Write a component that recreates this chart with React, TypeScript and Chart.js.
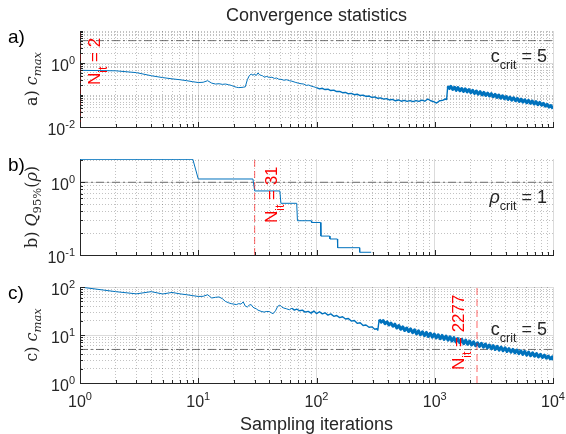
import React, { useEffect, useRef } from "react";
import { Chart, registerables } from "chart.js";

Chart.register(...registerables);

// ---------------- data ----------------
const xMin = 1;
const xMax = 10000;
const xTickExps = [0, 1, 2, 3, 4];

// panel a : c_max (first criterion)
const aIter = [
  1, 2, 3, 4, 5, 6, 7, 8, 9, 10, 11, 12, 13, 14, 15, 16, 17, 18, 19, 20, 21, 22, 23, 24, 25, 26, 27, 28, 29, 30,
  31, 32, 33, 34, 35, 36, 38, 40, 42, 44, 46, 48, 50, 53, 56, 59, 62, 66, 70, 74, 78, 82, 86, 90, 95,
  100, 106, 112, 118, 125, 132, 140, 148, 157, 166, 176, 186, 197, 209, 221, 234, 248, 262, 278, 294,
  311, 330, 349, 370, 391, 414, 439, 465, 492, 521, 552, 584, 619, 655, 694, 735, 778, 824, 873, 924,
  979, 1037, 1098, 1163, 1232, 1260,
  1288, 1330, 1370, 1420, 1470, 1520, 1570, 1630, 1690, 1750, 1810, 1880, 1950, 2020, 2090, 2170, 2250,
  2330, 2420, 2510, 2600, 2700, 2800, 2900, 3010, 3120, 3240, 3360, 3480, 3610, 3740, 3880, 4020, 4170,
  4320, 4480, 4650, 4820, 5000, 5180, 5370, 5570, 5780, 5990, 6210, 6440, 6680, 6930, 7180, 7450, 7720,
  8010, 8300, 8610, 8930, 9260, 9600, 10000,
];
const aVal = [
  0.59, 0.57, 0.5, 0.4, 0.35, 0.32, 0.3, 0.28, 0.26, 0.245, 0.25, 0.28, 0.235, 0.22, 0.225, 0.215, 0.22, 0.21, 0.2, 0.185,
  0.175, 0.17, 0.172, 0.175, 0.18, 0.3, 0.4, 0.45, 0.42, 0.44, 0.41, 0.49, 0.43, 0.41, 0.4, 0.36, 0.38, 0.35, 0.36, 0.33,
  0.34, 0.31, 0.31, 0.29, 0.3, 0.28, 0.27, 0.25, 0.235, 0.225, 0.22, 0.2, 0.205, 0.19, 0.18,
  0.17, 0.155, 0.162, 0.148, 0.152, 0.138, 0.142, 0.128, 0.13, 0.118, 0.12, 0.109, 0.112, 0.102, 0.106, 0.096, 0.099, 0.09, 0.093, 0.084,
  0.087, 0.079, 0.081, 0.074, 0.077, 0.07, 0.073, 0.066, 0.07, 0.064, 0.068, 0.063, 0.067, 0.062, 0.067, 0.063, 0.069, 0.064, 0.075, 0.066,
  0.062, 0.056, 0.066, 0.068, 0.075, 0.072,
  0.19, 0.16, 0.185, 0.15, 0.175, 0.14, 0.17, 0.135, 0.16, 0.13, 0.155, 0.125, 0.148, 0.118, 0.14, 0.112, 0.133,
  0.106, 0.127, 0.101, 0.121, 0.097, 0.115, 0.093, 0.11, 0.088, 0.105, 0.084, 0.1, 0.08, 0.095, 0.076, 0.09, 0.073,
  0.086, 0.069, 0.082, 0.066, 0.078, 0.063, 0.074, 0.06, 0.071, 0.057, 0.068, 0.055, 0.065, 0.052, 0.062, 0.05, 0.059,
  0.048, 0.055, 0.045, 0.051, 0.042, 0.047, 0.037,
];

// panel b : Q95%(rho)
const bIter = [1, 9, 10, 29, 30, 49, 50, 68, 69, 90, 91, 108, 109, 129, 130, 150, 151, 231, 232, 290];
const bVal = [2.07, 2.07, 1.11, 1.11, 0.76, 0.76, 0.514, 0.514, 0.296, 0.296, 0.28, 0.28, 0.182, 0.182, 0.166, 0.166, 0.126, 0.126, 0.109, 0.109];

// panel c : c_max (second criterion)
const cIter = [
  1, 2, 3, 4, 5, 6, 7, 8, 9, 10, 11, 12, 13, 14, 15, 16, 17, 18, 19, 20, 21, 22, 23, 24, 25, 26, 27, 28, 29, 30,
  31, 32, 34, 36, 38, 40, 42, 43, 45, 47, 49, 51, 53, 56, 59,
  62, 65, 68, 72, 76, 80, 85, 90, 95, 100, 106, 112, 118, 125, 132, 140, 148, 157, 166, 176, 186, 197, 209, 221,
  234, 248, 262, 278, 294, 311, 323, 330,
  339, 352, 366, 380, 395, 410, 426, 443, 460, 478, 497, 516, 536, 557, 579, 602, 625, 650, 675, 701,
  729, 757, 787, 818, 850, 883, 917, 953, 990, 1029, 1069, 1111, 1154, 1199, 1246, 1295, 1345, 1398, 1452, 1509,
  1568, 1629, 1693, 1759, 1827, 1899, 1973, 2050, 2130, 2213, 2300, 2390, 2483, 2580, 2680, 2785, 2894, 3007, 3124, 3246,
  3373, 3504, 3641, 3783, 3931, 4084, 4244, 4409, 4581, 4760, 4946, 5139, 5340, 5548, 5765, 5990, 6224, 6467, 6719, 6982,
  7254, 7537, 7832, 8137, 8455, 8785, 9128, 9484, 9855, 10000,
];
const cVal = [
  100, 80, 72, 80, 71.5, 77, 72, 69, 66, 63.5, 64, 69, 59, 61, 62, 57, 50, 47, 45, 44, 43, 45, 44, 49, 40, 38.3, 42, 43, 38, 36.4,
  35, 33, 31.1, 30, 31, 30.6, 28.5, 27.8, 32, 39.6, 42, 38, 36.4, 35, 33.6,
  36, 33, 34.5, 32, 33, 30, 31, 28.5, 31.5, 28, 30.5, 27.5, 29, 26, 27.5, 24.5, 25.5, 23, 24, 21.5, 22, 19.5, 20, 17.5,
  18, 15.8, 16.2, 14.5, 14.8, 13.2, 13.5, 12.6,
  21, 18.5, 20, 17.2, 18.8, 16.2, 17.8, 15.2, 16.8, 14.0, 15.8, 13.2, 14.8, 12.4, 14.0, 11.8, 13.4, 11.2, 12.8, 10.6,
  12.2, 10.1, 11.7, 9.7, 11.3, 9.3, 10.9, 9.0, 10.5, 8.7, 10.1, 8.4, 9.8, 8.1, 9.5, 7.8, 9.2, 7.5, 8.8, 7.2,
  8.4, 6.9, 8.1, 6.6, 7.8, 6.4, 7.5, 6.2, 7.2, 6.0, 6.9, 5.8, 6.7, 5.6, 6.5, 5.4, 6.2, 5.2, 6.0, 5.0,
  5.8, 4.85, 5.6, 4.7, 5.4, 4.55, 5.2, 4.4, 5.0, 4.25, 4.85, 4.1, 4.7, 3.95, 4.55, 3.8, 4.4, 3.7, 4.25, 3.6,
  4.1, 3.5, 3.95, 3.4, 3.8, 3.3, 3.65, 3.2, 3.5, 3.0,
];

const critValues = [5, 1, 5];
const nItValues = [2, 31, 2277];
const nItLineAt = [1, 30, 2276];
const yMins = [0.01, 0.1, 1];
const yMaxs = [10, 2.09, 100];
const yTickExps = [[-2, 0], [-1, 0], [0, 1, 2]];
const panelLetters = ["a)", "b)", "c)"];
const titleText = "Convergence statistics";
const xLabelText = "Sampling iterations";
// iteration from which the trace becomes a dense noisy band
const denseFrom = [1288, Infinity, 339];
const noisyFrom = [100, Infinity, 60];

// ---------------- styling helpers ----------------
const SANS = '"Liberation Sans", Arial, Helvetica, sans-serif';
const SERIF = '"DejaVu Serif", "Liberation Serif", serif';
const TXT = "#262626";

type Seg = { t: string; size: number; dy?: number; italic?: boolean; family?: string; color?: string };

function fontOf(s: Seg) {
  return `${s.italic ? "italic " : ""}${s.size}px ${s.family || SANS}`;
}

function drawSegs(ctx: CanvasRenderingContext2D, segs: Seg[], x: number, y: number, align: string, rotate: boolean, color: string) {
  let total = 0;
  const widths = segs.map((s) => {
    ctx.font = fontOf(s);
    const w = ctx.measureText(s.t).width;
    total += w;
    return w;
  });
  ctx.save();
  ctx.translate(x, y);
  if (rotate) ctx.rotate(-Math.PI / 2);
  let cx = align === "left" ? 0 : align === "center" ? -total / 2 : -total;
  ctx.textAlign = "left";
  ctx.textBaseline = "alphabetic";
  segs.forEach((s, i) => {
    ctx.font = fontOf(s);
    ctx.fillStyle = s.color || color;
    ctx.fillText(s.t, cx, s.dy || 0);
    cx += widths[i];
  });
  ctx.restore();
}

function pow10Segs(exp: number): Seg[] {
  return [
    { t: "10", size: 16 },
    { t: exp < 0 ? "-" + Math.abs(exp) : String(exp), size: 11, dy: -7 },
  ];
}

function isPow10(v: number) {
  const l = Math.log10(v);
  return Math.abs(l - Math.round(l)) < 1e-9;
}
function isMajor(v: number, exps: number[]) {
  if (!isPow10(v)) return false;
  return exps.includes(Math.round(Math.log10(v)));
}

function logTicks(min: number, max: number) {
  const out: any[] = [];
  for (let d = Math.floor(Math.log10(min)); d <= Math.ceil(Math.log10(max)); d++) {
    for (let k = 1; k <= 9; k++) {
      const v = Math.round(k * Math.pow(10, d) * 1e6) / 1e6;
      if (v >= min * (1 - 1e-9) && v <= max * (1 + 1e-9)) out.push({ value: v });
    }
  }
  return out;
}

const panelTops = [31, 159, 287];
const panelBottoms = [127, 255, 383];
const W = 566;
const H = 434;

const yTitles: Seg[][] = [
  [
    { t: "a) ", size: 16, family: SERIF },
    { t: "c", size: 16, family: SERIF, italic: true },
    { t: "max", size: 11.5, family: SERIF, italic: true, dy: 4 },
  ],
  [
    { t: "b) ", size: 16, family: SERIF },
    { t: "Q", size: 16, family: SERIF, italic: true },
    { t: "95%", size: 11.5, family: SERIF, dy: 4 },
    { t: "(", size: 16, family: SERIF },
    { t: "ρ", size: 16, family: SERIF, italic: true },
    { t: ")", size: 16, family: SERIF },
  ],
  [
    { t: "c) ", size: 16, family: SERIF },
    { t: "c", size: 16, family: SERIF, italic: true },
    { t: "max", size: 11.5, family: SERIF, italic: true, dy: 4 },
  ],
];

const critTexts: Seg[][] = [
  [{ t: "c", size: 18 }, { t: "crit", size: 12.5, dy: 7 }, { t: " = 5", size: 18 }],
  [{ t: "ρ", size: 18, italic: true }, { t: "crit", size: 12.5, dy: 7 }, { t: " = 1", size: 18 }],
  [{ t: "c", size: 18 }, { t: "crit", size: 12.5, dy: 7 }, { t: " = 5", size: 18 }],
];
const critTextDy = [21, 21, -14];
const nItDx = [20, 22, -13];
const nItYOff = [54, 64, 83];

function makeDecor(i: number) {
  return {
    id: "decor" + i,
    afterDraw(chart: any) {
      const ctx: CanvasRenderingContext2D = chart.ctx;
      const xs = chart.scales.x;
      const ys = chart.scales.y;
      const area = chart.chartArea;
      ctx.save();
      // inward ticks
      ctx.strokeStyle = TXT;
      ctx.lineWidth = 1;
      ctx.beginPath();
      for (const t of xs.ticks) {
        const px = Math.round(xs.getPixelForValue(t.value)) + 0.5;
        const len = isPow10(t.value) ? 5 : 3;
        ctx.moveTo(px, area.bottom);
        ctx.lineTo(px, area.bottom - len);
      }
      for (const t of ys.ticks) {
        const py = Math.round(ys.getPixelForValue(t.value)) + 0.5;
        const len = isMajor(t.value, yTickExps[i]) ? 5 : 3;
        ctx.moveTo(area.left, py);
        ctx.lineTo(area.left + len, py);
      }
      ctx.stroke();

      // y tick labels
      for (const e of yTickExps[i]) {
        const py = ys.getPixelForValue(Math.pow(10, e));
        drawSegs(ctx, pow10Segs(e), area.left - 5, py + 8, "right", false, TXT);
      }
      // x tick labels + x label on the last panel
      if (i === 2) {
        for (const e of xTickExps) {
          const px = xs.getPixelForValue(Math.pow(10, e));
          drawSegs(ctx, pow10Segs(e), px, area.bottom + 24, "center", false, TXT);
        }
        drawSegs(ctx, [{ t: xLabelText, size: 18 }], (area.left + area.right) / 2, 430, "center", false, TXT);
      }
      if (i === 0) {
        drawSegs(ctx, [{ t: titleText, size: 18 }], (area.left + area.right) / 2, 21, "center", false, TXT);
      }
      // panel letter
      drawSegs(ctx, [{ t: panelLetters[i], size: 19 }], 8, area.top + 12, "left", false, "#000");
      // y title
      drawSegs(ctx, yTitles[i], 37, (area.top + area.bottom) / 2, "center", true, TXT);
      // crit text
      const cy = ys.getPixelForValue(critValues[i]);
      drawSegs(ctx, critTexts[i], area.right - 6, cy + critTextDy[i], "right", false, TXT);
      // N_it text
      const lx = xs.getPixelForValue(nItLineAt[i]);
      drawSegs(
        ctx,
        [
          { t: "N", size: 17 },
          { t: "it", size: 12, dy: 7 },
          { t: " = " + nItValues[i], size: 17 },
        ],
        lx + nItDx[i],
        area.top + nItYOff[i],
        "left",
        true,
        "#ff0000"
      );
      ctx.restore();
    },
  };
}

const iterSets = [aIter, bIter, cIter];
const valSets = [aVal, bVal, cVal];

function buildChart(canvas: HTMLCanvasElement, i: number) {
  const majors = yTickExps[i];
  const gridMajor = "rgba(0,0,0,0.14)";
  const gridMinor = "rgba(0,0,0,0.24)";
  return new Chart(canvas, {
    type: "line",
    data: {
      datasets: [
        {
          data: [
            { x: nItLineAt[i], y: yMins[i] },
            { x: nItLineAt[i], y: yMaxs[i] },
          ],
          borderColor: "rgba(255,0,0,0.6)",
          borderWidth: 1,
          borderDash: [7, 4],
          pointRadius: 0,
        },
        {
          data: iterSets[i].map((x, k) => ({ x, y: valSets[i][k] })),
          borderColor: "#0072BD",
          borderWidth: 1,
          borderJoinStyle: "round",
          pointRadius: 0,
          tension: 0,
          segment: {
            borderWidth: (c: any) =>
              c.p0.parsed.x >= denseFrom[i] ? 3 : c.p0.parsed.x >= noisyFrom[i] ? 1.4 : 1,
          },
        },
        {
          data: [
            { x: xMin, y: critValues[i] },
            { x: xMax, y: critValues[i] },
          ],
          borderColor: "rgba(70,70,70,0.75)",
          borderWidth: 1,
          borderDash: [8, 3, 2, 3],
          pointRadius: 0,
        },
      ],
    } as any,
    options: {
      responsive: false,
      animation: false,
      devicePixelRatio: 1,
      events: [],
      layout: {
        autoPadding: false,
        padding: { left: 80, right: W - 553, top: panelTops[i], bottom: H - panelBottoms[i] },
      },
      plugins: { legend: { display: false }, tooltip: { enabled: false }, title: { display: false } },
      scales: {
        x: {
          type: "logarithmic",
          min: xMin,
          max: xMax,
          position: "bottom",
          ticks: { display: false },
          afterBuildTicks: (s: any) => {
            s.ticks = logTicks(xMin, xMax);
          },
          afterFit: (s: any) => {
            s.height = 0;
          },
          grid: {
            drawTicks: false,
            lineWidth: 1,
            color: (c: any) => (c.tick && isPow10(c.tick.value) ? gridMajor : gridMinor),
          },
          border: {
            display: true,
            color: TXT,
            width: 1,
            dash: (c: any) => (c.tick && !isPow10(c.tick.value) ? [1, 2] : []),
          },
        },
        y: {
          type: "logarithmic",
          min: yMins[i],
          max: yMaxs[i],
          position: "left",
          ticks: { display: false },
          afterBuildTicks: (s: any) => {
            s.ticks = logTicks(yMins[i], yMaxs[i]);
          },
          afterFit: (s: any) => {
            s.width = 0;
          },
          grid: {
            drawTicks: false,
            lineWidth: 1,
            color: (c: any) => (c.tick && isMajor(c.tick.value, majors) ? gridMajor : gridMinor),
          },
          border: {
            display: true,
            color: TXT,
            width: 1,
            dash: (c: any) => (c.tick && !isMajor(c.tick.value, majors) ? [1, 2] : []),
          },
        },
      },
    } as any,
    plugins: [makeDecor(i)],
  });
}

export default function App() {
  const r0 = useRef<HTMLCanvasElement>(null);
  const r1 = useRef<HTMLCanvasElement>(null);
  const r2 = useRef<HTMLCanvasElement>(null);

  useEffect(() => {
    document.body.style.margin = "0";
    document.body.style.background = "#ffffff";
    const refs = [r0, r1, r2];
    const charts = refs.map((r, i) => buildChart(r.current as HTMLCanvasElement, i));
    return () => charts.forEach((c) => c.destroy());
  }, []);

  const cs: React.CSSProperties = { position: "absolute", left: 0, top: 0, width: W, height: H };
  return (
    <div style={{ position: "relative", width: W, height: H, background: "#fff", overflow: "hidden" }}>
      <canvas ref={r0} width={W} height={H} style={cs} />
      <canvas ref={r1} width={W} height={H} style={cs} />
      <canvas ref={r2} width={W} height={H} style={cs} />
    </div>
  );
}
